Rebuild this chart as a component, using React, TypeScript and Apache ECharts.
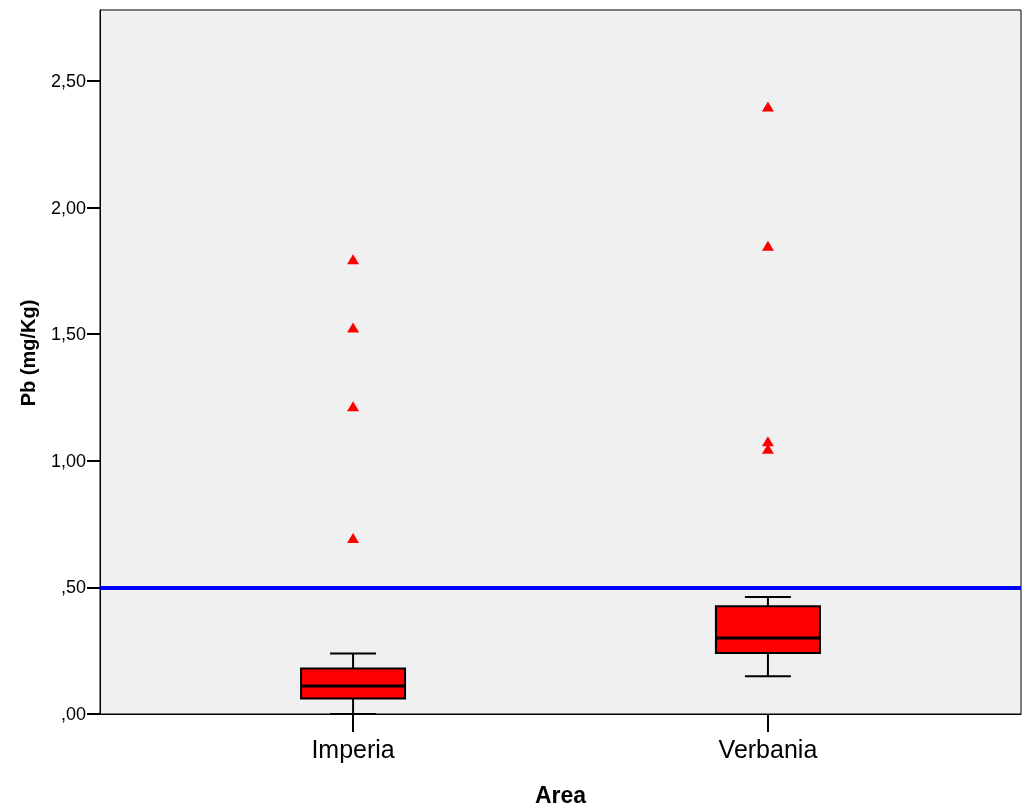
import React, { useEffect, useRef } from "react";
import * as echarts from "echarts";

const categories = ["Imperia", "Verbania"];
const categoryPositions = [1, 2];
// [x, min, Q1, median, Q3, max]
const boxValues = [
  [1, 0.0, 0.061, 0.111, 0.18, 0.239],
  [2, 0.149, 0.241, 0.3, 0.425, 0.462],
];
const outliers = [
  [1, 1.796],
  [1, 1.526],
  [1, 1.215],
  [1, 0.695],
  [2, 2.399],
  [2, 1.849],
  [2, 1.077],
  [2, 1.047],
];
const yTicks = [0, 0.5, 1, 1.5, 2, 2.5];
const referenceLine = 0.5;
const xTitle = "Area";
const yTitle = "Pb (mg/Kg)";

const FONT = '"Liberation Sans", Arial, Helvetica, sans-serif';

export default function App() {
  const ref = useRef<HTMLDivElement>(null);
  useEffect(() => {
    document.body.style.margin = "0";
    const chart = echarts.init(ref.current!, null, { renderer: "svg" });
    const option: any = {
      animation: false,
      grid: {
        left: 100,
        right: 12,
        top: 10,
        bottom: 94,
        show: true,
        backgroundColor: "#f0f0f0",
        borderColor: "#000",
        borderWidth: 1,
      },
      xAxis: {
        type: "value",
        min: 0.39,
        max: 2.61,
        axisLine: { show: true, lineStyle: { color: "#000", width: 1 } },
        axisTick: {
          show: true,
          customValues: categoryPositions,
          length: 18,
          lineStyle: { color: "#000", width: 2 },
        },
        axisLabel: {
          customValues: categoryPositions,
          formatter: (v: number) => categories[categoryPositions.indexOf(v)] ?? "",
          fontSize: 25,
          fontFamily: FONT,
          color: "#000",
          margin: 22,
        },
        splitLine: { show: false },
      },
      yAxis: {
        type: "value",
        min: 0,
        max: 2.78,
        axisLine: { show: true, lineStyle: { color: "#000", width: 1 } },
        axisTick: {
          show: true,
          customValues: yTicks,
          length: 13,
          lineStyle: { color: "#000", width: 2 },
        },
        axisLabel: {
          customValues: yTicks,
          formatter: (v: number) => v.toFixed(2).replace(".", ",").replace(/^0/, ""),
          fontSize: 18,
          fontFamily: FONT,
          color: "#000",
          margin: 14,
        },
        splitLine: { show: false },
      },
      series: [
        {
          type: "custom",
          data: boxValues,
          encode: { x: 0, y: [1, 2, 3, 4, 5] },
          renderItem: (params: any, api: any) => {
            const x = api.value(0);
            const pMin = api.coord([x, api.value(1)]);
            const pQ1 = api.coord([x, api.value(2)]);
            const pMed = api.coord([x, api.value(3)]);
            const pQ3 = api.coord([x, api.value(4)]);
            const pMax = api.coord([x, api.value(5)]);
            const cx = pMin[0];
            const bw = 52;
            const cw = 23;
            const ls = { stroke: "#000", lineWidth: 2 };
            return {
              type: "group",
              children: [
                { type: "line", shape: { x1: cx, y1: pMax[1], x2: cx, y2: pQ3[1] }, style: ls },
                { type: "line", shape: { x1: cx, y1: pQ1[1], x2: cx, y2: pMin[1] }, style: ls },
                { type: "line", shape: { x1: cx - cw, y1: pMax[1], x2: cx + cw, y2: pMax[1] }, style: ls },
                { type: "line", shape: { x1: cx - cw, y1: pMin[1], x2: cx + cw, y2: pMin[1] }, style: ls },
                {
                  type: "rect",
                  shape: { x: cx - bw, y: pQ3[1], width: 2 * bw, height: pQ1[1] - pQ3[1] },
                  style: { fill: "#ff0000", stroke: "#000", lineWidth: 2 },
                },
                {
                  type: "line",
                  shape: { x1: cx - bw, y1: pMed[1], x2: cx + bw, y2: pMed[1] },
                  style: { stroke: "#000", lineWidth: 3 },
                },
              ],
            };
          },
        },
        {
          type: "scatter",
          data: outliers,
          symbol: "triangle",
          symbolSize: [12, 10],
          itemStyle: { color: "#ff0000", opacity: 1 },
          markLine: {
            silent: true,
            symbol: "none",
            label: { show: false },
            lineStyle: { color: "#0000ff", width: 4, type: "solid" },
            data: [{ yAxis: referenceLine }],
          },
        },
      ],
      graphic: [
        {
          type: "text",
          x: 560.5,
          y: 795,
          style: {
            text: xTitle,
            align: "center",
            verticalAlign: "middle",
            font: `bold 23px ${FONT}`,
            fill: "#000",
          },
        },
        {
          type: "text",
          x: 28.3,
          y: 353,
          rotation: Math.PI / 2,
          style: {
            text: yTitle,
            align: "center",
            verticalAlign: "middle",
            font: `bold 20px ${FONT}`,
            fill: "#000",
          },
        },
      ],
    };
    chart.setOption(option);
    return () => chart.dispose();
  }, []);
  return (
    <div
      ref={ref}
      style={{ position: "fixed", left: 0, top: 0, width: 1033, height: 808 }}
    />
  );
}
